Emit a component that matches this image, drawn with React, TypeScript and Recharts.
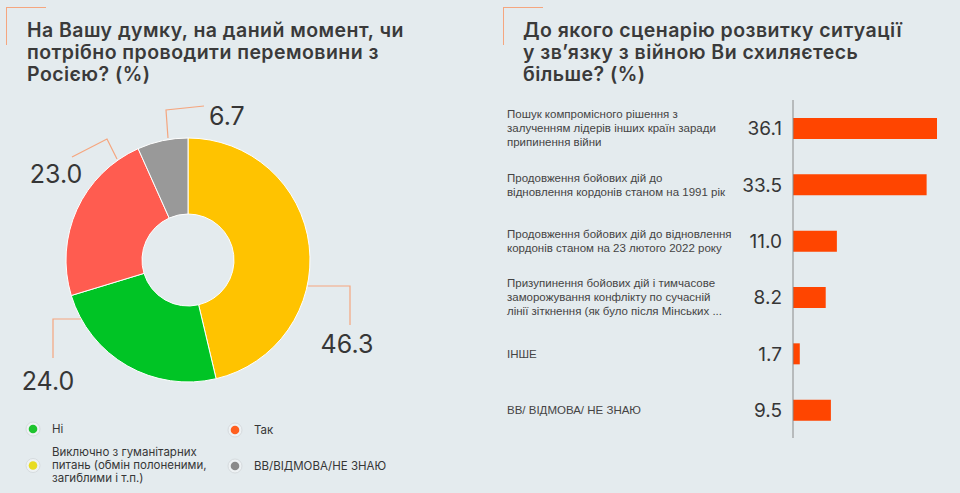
import React from 'react';
import { PieChart, Pie, Cell, BarChart, Bar, XAxis, YAxis, LabelList, Legend } from 'recharts';

// left: negotiations with Russia
const pieNames = [
  'Виключно з гуманітарних питань (обмін полоненими, загиблими і т.п.)',
  'Ні',
  'Так',
  'ВВ/ВІДМОВА/НЕ ЗНАЮ',
];
const pieValues = [46.3, 24.0, 23.0, 6.7];
const pieColors = ['#ffc300', '#00c425', '#ff5c50', '#999999'];

const legendLabels = [
  ['Ні'],
  ['Так'],
  ['Виключно з гуманітарних', 'питань (обмін полоненими,', 'загиблими і т.п.)'],
  ['ВВ/ВІДМОВА/НЕ ЗНАЮ'],
];
const legendColors = ['#1ec42e', '#ff5f1f', '#e8dc20', '#8a8a8a'];

// right: scenarios
const scenarioLabels = [
  ['Пошук компромісного рішення з', 'залученням лідерів інших країн заради', 'припинення війни'],
  ['Продовження бойових дій до', 'відновлення кордонів станом на 1991 рік'],
  ['Продовження бойових дій до відновлення', 'кордонів станом на 23 лютого 2022 року'],
  ['Призупинення бойових дій і тимчасове', 'заморожування конфлікту по сучасній', 'лінії зіткнення (як було після Мінських ...'],
  ['ІНШЕ'],
  ['ВВ/ ВІДМОВА/ НЕ ЗНАЮ'],
];
const scenarioValues = [36.1, 33.5, 11.0, 8.2, 1.7, 9.5];

const BG = '#e4ebee';
const TEXT = '#363636';
const ACCENT = '#f5a67f';
const FONT = 'Inter, "Noto Sans", sans-serif';
const SMALL_FONT = '"Liberation Sans", Arial, sans-serif';

const pieData = pieNames.map((name, i) => ({ name, value: pieValues[i] }));
const barData = scenarioLabels.map((lines, i) => ({ name: lines.join(' '), lines, value: scenarioValues[i] }));

// elbow label lines, offsets relative to the pie centre
const labelPaths = [
  { pts: [[120, 26], [162, 26], [162, 65]], tx: 159, ty: 93, anchor: 'middle' },
  { pts: [[-107, 59], [-135, 59], [-135, 98]], tx: -140, ty: 130, anchor: 'middle' },
  { pts: [[-71, -101], [-81, -121], [-116, -103]], tx: -132, ty: -77, anchor: 'middle' },
  { pts: [[-20, -122], [-22, -150], [16, -154]], tx: 21, ty: -135, anchor: 'start' },
];

const renderPieLabel = (props: any) => {
  const { cx, cy, index, value } = props;
  const l = labelPaths[index];
  const pts = l.pts.map(([dx, dy]) => `${cx + dx},${cy + dy}`).join(' ');
  return (
    <g key={index}>
      <polyline points={pts} fill="none" stroke={ACCENT} strokeWidth={1.2} />
      <text x={cx + l.tx} y={cy + l.ty} textAnchor={l.anchor} fill={TEXT} fontSize={25} fontFamily={FONT}>
        {Number(value).toFixed(1)}
      </text>
    </g>
  );
};

const legendPos = [
  { left: 25, top: 429 },
  { left: 227, top: 430 },
  { left: 25, top: 465 },
  { left: 227, top: 466 },
];

const renderLegend = () => (
  <div style={{ position: 'relative', width: 480, height: 493 }}>
    {legendLabels.map((lines, i) => (
      <div
        key={i}
        style={{
          position: 'absolute',
          left: legendPos[i].left,
          top: legendPos[i].top,
          transform: 'translateY(-50%)',
          display: 'flex',
          alignItems: 'center',
        }}
      >
        <svg width={16} height={16} style={{ flex: 'none' }}>
          <circle cx={8} cy={8} r={7} fill="#eef2f4" stroke="#d6dbde" strokeWidth={1} />
          <circle cx={8} cy={8} r={4.3} fill={legendColors[i]} />
        </svg>
        <div style={{ marginLeft: 11, fontSize: 11.5, lineHeight: '13px', color: TEXT, fontFamily: FONT }}>
          {lines.map((t, j) => (
            <div key={j}>{t}</div>
          ))}
        </div>
      </div>
    ))}
  </div>
);

const CategoryTick = (props: any) => {
  const { y, payload } = props;
  const item = barData[payload.index];
  const lines = item ? item.lines : [payload.value];
  const lh = 14;
  const y0 = y - ((lines.length - 1) * lh) / 2;
  return (
    <text x={27} y={y0} fill="#444" fontSize={11.5} fontFamily={SMALL_FONT} dominantBaseline="central">
      {lines.map((t: string, j: number) => (
        <tspan key={j} x={27} y={y0 + j * lh}>
          {t}
        </tspan>
      ))}
    </text>
  );
};

const Corner = ({ left }: { left: number }) => (
  <div
    style={{
      position: 'absolute',
      left,
      top: 7,
      width: 39,
      height: 37,
      borderTop: `1.5px solid ${ACCENT}`,
      borderLeft: `1.5px solid ${ACCENT}`,
    }}
  />
);

const titleStyle: React.CSSProperties = {
  position: 'absolute',
  top: 19,
  fontFamily: FONT,
  fontWeight: 600,
  fontSize: 19.5,
  letterSpacing: 0.45,
  lineHeight: '22px',
  color: '#3a3a3a',
  whiteSpace: 'nowrap',
};

export default function App() {
  return (
    <div style={{ position: 'absolute', left: 0, top: 0, width: 960, height: 493, background: BG, overflow: 'hidden' }}>
      <Corner left={6} />
      <Corner left={503} />
      <div style={{ ...titleStyle, left: 27 }}>
        <div>На Вашу думку, на даний момент, чи</div>
        <div>потрібно проводити перемовини з</div>
        <div>Росією? (%)</div>
      </div>
      <div style={{ ...titleStyle, left: 523 }}>
        <div>До якого сценарію розвитку ситуації</div>
        <div>у зв’язку з війною Ви схиляєтесь</div>
        <div>більше? (%)</div>
      </div>

      <div style={{ position: 'absolute', left: 0, top: 0 }}>
        <PieChart width={480} height={493} margin={{ top: 0, right: 0, bottom: 0, left: 0 }}>
          <Pie
            data={pieData}
            dataKey="value"
            nameKey="name"
            cx={188}
            cy={260}
            innerRadius={46}
            outerRadius={122}
            startAngle={90}
            endAngle={-270}
            stroke="#ffffff"
            strokeWidth={1}
            label={renderPieLabel}
            labelLine={false}
            isAnimationActive={false}
          >
            {pieData.map((d, i) => (
              <Cell key={d.name} fill={pieColors[i]} />
            ))}
          </Pie>
          <Legend content={renderLegend} wrapperStyle={{ left: 0, top: 0, width: 480, height: 493 }} />
        </PieChart>
      </div>

      <div style={{ position: 'absolute', left: 480, top: 0 }}>
        <BarChart
          width={480}
          height={493}
          data={barData}
          layout="vertical"
          margin={{ top: 100, right: 23, bottom: 55, left: 0 }}
          barCategoryGap={0}
        >
          <XAxis type="number" hide domain={[0, 'dataMax']} />
          <YAxis
            type="category"
            dataKey="name"
            width={313}
            tickLine={false}
            axisLine={{ stroke: '#8a8a8a' }}
            tick={<CategoryTick />}
            interval={0}
          />
          <Bar dataKey="value" fill="#ff4500" barSize={21} isAnimationActive={false}>
            <LabelList
              dataKey="value"
              position="left"
              offset={11}
              formatter={(v: any) => Number(v).toFixed(1)}
              style={{ fill: TEXT, fontSize: 19, fontFamily: FONT }}
            />
          </Bar>
        </BarChart>
      </div>
    </div>
  );
}
